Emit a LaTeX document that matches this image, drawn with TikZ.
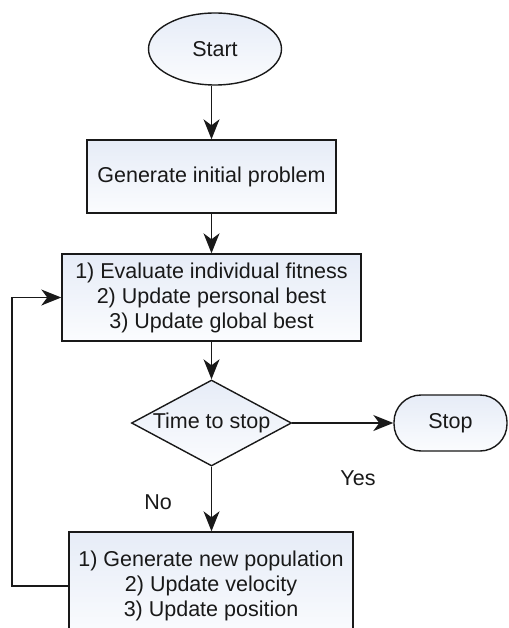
\documentclass[tikz,border=0pt]{standalone}
\usepackage{fontspec}
\setmainfont{Liberation Sans}
\usetikzlibrary{shapes.geometric,arrows.meta}
\definecolor{fillL}{RGB}{230,236,247}
\definecolor{fillR}{RGB}{251,252,254}
\definecolor{ink}{RGB}{25,25,25}
\tikzset{
  blk/.style={draw=ink, line width=1.4pt, left color=fillL, right color=fillR, shading angle=0,
    inner sep=0pt, align=center, text=ink, font=\fontsize{21.5}{25}\selectfont},
  boxnode/.style={blk, rectangle},
  ovalnode/.style={blk, ellipse},
  termnode/.style={blk, rectangle, rounded corners=27pt},
  decnode/.style={blk, diamond, aspect=1.86},
  lbl/.style={text=ink, font=\fontsize{21.5}{25}\selectfont, inner sep=0pt},
  flow/.style={draw=ink, line width=1.4pt, -{Stealth[length=20pt,width=16pt,inset=6pt]}},
  plainline/.style={draw=ink, line width=1.4pt}
}
\begin{document}
\begin{tikzpicture}[x=1pt,y=-1pt]
\useasboundingbox (0,0) rectangle (508,628);
\node[ovalnode, minimum width=133pt, minimum height=72pt] (start) at (215,49) {Start};
\node[boxnode, minimum width=249pt, minimum height=73pt] (gen) at (211.5,176.5) {Generate initial problem};
\node[boxnode, minimum width=299pt, minimum height=87pt] (eval) at (211.5,297.5)
  {1) Evaluate individual fitness\\2) Update personal best\\3) Update global best};
\node[decnode, minimum width=160pt, minimum height=86pt] (dec) at (211.5,423) {Time to stop};
\node[termnode, minimum width=113pt, minimum height=56pt] (stop) at (450.5,423) {Stop};
\node[boxnode, minimum width=284pt, minimum height=108pt] (newpop) at (211,586)
  {1) Generate new population\\2) Update velocity\\3) Update position};
\node[lbl] (yes) at (358,478) {Yes};
\node[lbl] (no) at (158,502) {No};
\coordinate (loopcorner) at (12,586);
\draw[flow] (start.south -| gen.north) -- (gen.north);
\draw[flow] (gen.south) -- (eval.north);
\draw[flow] (eval.south) -- (dec.north);
\draw[flow] (dec.east) -- (stop.west);
\draw[flow] (dec.south) -- (dec.south |- newpop.north);
\draw[flow] (newpop.west) -- (loopcorner) |- (eval.west);
\end{tikzpicture}
\end{document}
